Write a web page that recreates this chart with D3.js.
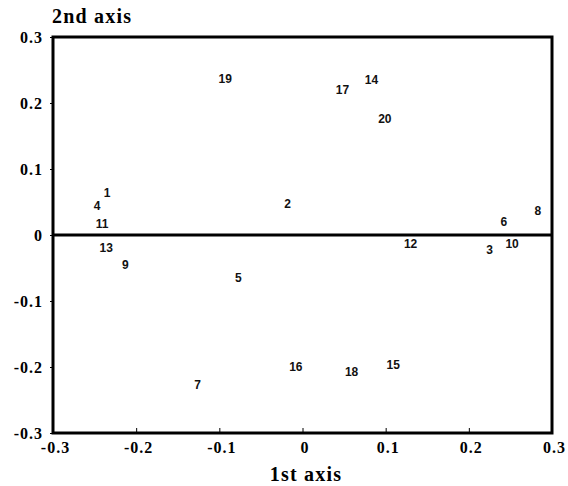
<!DOCTYPE html>
<html>
<head>
<meta charset="utf-8">
<script src="https://cdn.jsdelivr.net/npm/d3@7"></script>
<style>
  html, body { margin: 0; padding: 0; background: #fff; }
  svg { display: block; }
</style>
</head>
<body>
<svg id="chart" width="568" height="486"></svg>
<script>
const labels = ["1","2","3","4","5","6","7","8","9","10","11","12","13","14","15","16","17","18","19","20"];
const axis1 = [-0.235,-0.018,0.225,-0.247,-0.077,0.242,-0.126,0.283,-0.213,0.252,-0.241,0.130,-0.236,0.083,0.109,-0.008,0.048,0.059,-0.093,0.099];
const axis2 = [0.064,0.047,-0.023,0.044,-0.065,0.020,-0.227,0.037,-0.046,-0.013,0.017,-0.013,-0.019,0.235,-0.197,-0.200,0.220,-0.207,0.236,0.176];
const xTicks = [-0.3,-0.2,-0.1,0,0.1,0.2,0.3];
const yTicks = [0.3,0.2,0.1,0,-0.1,-0.2,-0.3];
const xTitle = "1st axis";
const yTitle = "2nd axis";

const svg = d3.select("#chart");
const L = 53, R = 552, T = 37, B = 433;
const x = d3.scaleLinear().domain([-0.3, 0.3]).range([L, R]);
const y = d3.scaleLinear().domain([-0.3, 0.3]).range([B, T]);
const fmt = d => d === 0 ? "0" : d3.format(".1f")(d).replace("−", "-");

// bottom axis ticks (inward) and labels
const xa = svg.append("g").attr("transform", `translate(0,${B})`)
  .call(d3.axisBottom(x).tickValues(xTicks).tickFormat(fmt).tickSize(-5).tickPadding(9));
xa.select(".domain").remove();
xa.selectAll(".tick line").attr("stroke", "#000").attr("stroke-width", 1);
xa.selectAll(".tick text").attr("font-family", "Liberation Serif, serif").attr("font-weight", "bold")
  .attr("font-size", 16).attr("letter-spacing", 1).attr("fill", "#000").attr("dx", 2);

// left axis
const ya = svg.append("g").attr("transform", `translate(${L},0)`)
  .call(d3.axisLeft(y).tickValues(yTicks).tickFormat(fmt).tickSize(3).tickPadding(7));
ya.select(".domain").remove();
ya.selectAll(".tick line").attr("stroke", "#000").attr("stroke-width", 1);
ya.selectAll(".tick text").attr("font-family", "Liberation Serif, serif").attr("font-weight", "bold")
  .attr("font-size", 16).attr("letter-spacing", 1).attr("fill", "#000");

// frame
svg.append("rect").attr("x", x(-0.3)).attr("y", y(0.3))
  .attr("width", x(0.3) - x(-0.3)).attr("height", y(-0.3) - y(0.3))
  .attr("fill", "none").attr("stroke", "#000").attr("stroke-width", 3);

// zero line
svg.append("line").attr("x1", x(-0.3)).attr("x2", x(0.3)).attr("y1", y(0)).attr("y2", y(0))
  .attr("stroke", "#000").attr("stroke-width", 3);

// point labels
svg.append("g").selectAll("text").data(labels).join("text")
  .attr("x", (d, i) => x(axis1[i]))
  .attr("y", (d, i) => y(axis2[i]))
  .attr("text-anchor", "middle").attr("dominant-baseline", "central")
  .attr("font-family", "Liberation Sans, Arial, sans-serif")
  .attr("font-size", 12).attr("font-weight", "bold").attr("fill", "#111")
  .text(d => d);

// titles
svg.append("text").attr("x", 52).attr("y", 23)
  .attr("font-family", "Liberation Serif, serif").attr("font-weight", "bold")
  .attr("font-size", 20).attr("letter-spacing", 1.2).attr("fill", "#000").text(yTitle);
svg.append("text").attr("x", 306).attr("y", 481).attr("text-anchor", "middle")
  .attr("font-family", "Liberation Serif, serif").attr("font-weight", "bold")
  .attr("font-size", 20).attr("letter-spacing", 1.2).attr("fill", "#000").text(xTitle);
</script>
</body>
</html>
